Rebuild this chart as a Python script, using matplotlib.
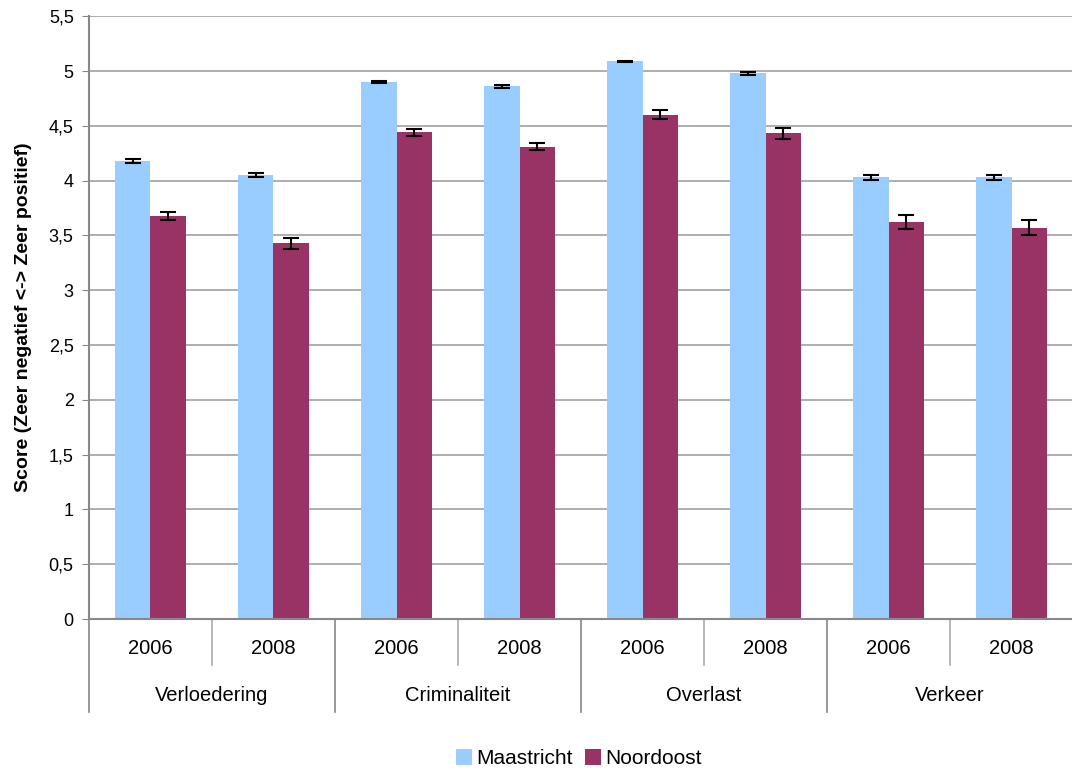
import numpy as np
import matplotlib.pyplot as plt
import matplotlib.transforms as mtransforms

plt.rcParams['font.family'] = ['Liberation Sans', 'DejaVu Sans']

# data
categories = ['Verloedering', 'Criminaliteit', 'Overlast', 'Verkeer']
years = ['2006', '2008']
maastricht = [4.18, 4.05, 4.90, 4.86, 5.09, 4.98, 4.03, 4.03]
maastricht_err = [0.015, 0.02, 0.005, 0.015, 0.005, 0.015, 0.02, 0.02]
noordoost = [3.68, 3.43, 4.44, 4.31, 4.60, 4.43, 3.62, 3.57]
noordoost_err = [0.035, 0.05, 0.03, 0.03, 0.04, 0.05, 0.065, 0.07]

blue = '#99CCFF'
maroon = '#993366'
grey = '#888888'

fig = plt.figure(figsize=(10.72, 7.71), dpi=100)
ax = fig.add_axes([0.083, 0.197, 0.918, 0.782])

x = np.arange(len(maastricht))
w = 0.29
ax.bar(x - w/2, maastricht, w, color=blue, label='Maastricht', zorder=2)
ax.bar(x + w/2, noordoost, w, color=maroon, label='Noordoost', zorder=2)
ax.errorbar(x - w/2, maastricht, yerr=maastricht_err, fmt='none', ecolor='black',
            elinewidth=1.5, capsize=6, capthick=1.5, zorder=3)
ax.errorbar(x + w/2, noordoost, yerr=noordoost_err, fmt='none', ecolor='black',
            elinewidth=1.5, capsize=6, capthick=1.5, zorder=3)

ax.set_xlim(-0.5, len(x) - 0.5)
ax.set_ylim(0, 5.5)
yt = np.arange(0, 5.51, 0.5)
ax.set_yticks(yt)
ax.set_yticklabels([('%g' % v).replace('.', ',') for v in yt], fontsize=13)
ax.tick_params(axis='y', length=5, color=grey, pad=6)
ax.grid(axis='y', color='#999999', linewidth=1.1, zorder=0)
ax.set_axisbelow(True)

for s in ['top', 'right']:
    ax.spines[s].set_visible(False)
for s in ['left', 'bottom']:
    ax.spines[s].set_color(grey)
    ax.spines[s].set_linewidth(1.5)

ax.set_xticks([])
ax.set_ylabel('Score (Zeer negatief <-> Zeer positief)', fontsize=14,
              fontweight='bold', labelpad=12)

# hierarchical x axis
trans = mtransforms.blended_transform_factory(ax.transData, ax.transAxes)
for i in range(len(x)):
    ax.text(i, -0.048, years[i % 2], transform=trans, ha='center', va='center',
            fontsize=14.5)
for j, cat in enumerate(categories):
    ax.text(2*j + 0.5, -0.126, cat, transform=trans, ha='center', va='center',
            fontsize=14.5)
    ax.plot([2*j + 0.5, 2*j + 0.5], [0, -0.076], transform=trans, color='#aaaaaa',
            linewidth=1.2, clip_on=False)
for j in range(len(categories)):
    ax.plot([2*j - 0.5, 2*j - 0.5], [0, -0.154], transform=trans, color=grey,
            linewidth=1.2, clip_on=False)

fig.legend(loc='center', bbox_to_anchor=(0.54, 0.016), ncol=2, frameon=False,
           fontsize=15, handlelength=0.75, handleheight=0.75, handletextpad=0.2,
           columnspacing=0.6, borderpad=0)

fig.savefig('out.png', dpi=100)
